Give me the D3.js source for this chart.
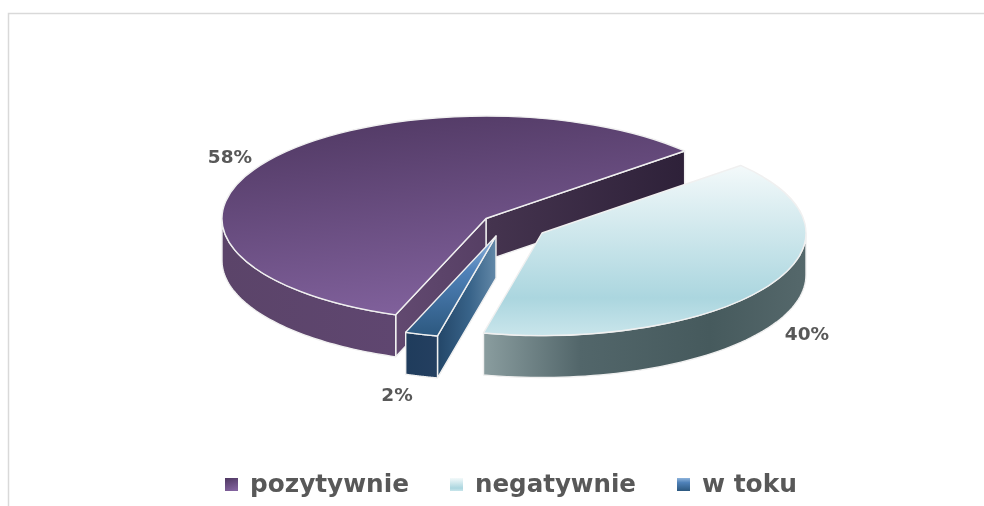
<!DOCTYPE html>
<html>

<head>
	<title>Pie 3D</title>
	<style>
		body,
		html {
			margin: 0;
			background: #fff;
		}

		svg {
			display: block;
		}

		text {
			font-family: "DejaVu Sans";
			font-weight: bold;
			fill: #595959;
			filter: url(#soft);
		}
	</style>
</head>

<body>

	<svg id="svg" width="984" height="506"></svg>

	<script src="https://d3js.org/d3.v7.min.js"></script>
	<script>
		// Data
		const categories = ['pozytywnie', 'negatywnie', 'w toku']
		const shares = [58, 40, 2]

		// Layout of the tilted pie
		const rx = 264
		const ry = 102.5
		const depth = 42
		const rad = Math.PI / 180
		const centers = [[486, 218.5], [542, 233], [496, 236]] // exploded slices have their own center
		const labelPos = [[230, 156], [807, 333], [397, 394]]
		const legendX = [225, 450, 677]
		const legendWidth = [159, 161, 95] // the reference text is stretched sideways
		const strokeColor = '#f0f0f0'

		const svg = d3.select('#svg')

		// Chart frame, only top and left are in the picture
		svg.append('path')
			.attr('d', 'M8.5,506V13.5H984')
			.attr('fill', 'none')
			.attr('stroke', '#d9d9d9')
			.attr('stroke-width', 1.5)

		// Gradients
		const defs = svg.append('defs')

		// The reference is an upscaled image, text is a bit soft
		defs.append('filter')
			.attr('id', 'soft')
			.append('feGaussianBlur')
			.attr('stdDeviation', 0.35)

		function gradient(id, stops, dir) {
			const g = defs.append('linearGradient')
				.attr('id', id)
				.attr('x1', dir[0]).attr('y1', dir[1])
				.attr('x2', dir[2]).attr('y2', dir[3])
			g.selectAll('stop')
				.data(stops)
				.join('stop')
				.attr('offset', d => d[0])
				.attr('stop-color', d => d[1])
		}

		const down = [0, 0, 0, 1]
		const across = [0, 0, 1, 0]

		gradient('top0', [[0, '#523a65'], [1, '#83639f']], [0.3, 0, 0.6, 1])
		gradient('top1', [[0, '#f3f9fa'], [0.78, '#abd6df'], [1, '#c9e5eb']], down)
		gradient('top2', [[0, '#8fb4dc'], [0.35, '#4f81b8'], [1, '#2c587f']], down)
		gradient('rim0', [[0, '#5b4469'], [1, '#5f4670']], across)
		gradient('rim1', [[0, '#8a9d9f'], [0.3, '#52666a'], [0.7, '#465a5d'], [1, '#55686b']], across)
		gradient('rim2', [[0, '#1f3c5c'], [1, '#243f60']], across)
		gradient('wallBack', [[0, '#45344f'], [1, '#2e2139']], across)
		gradient('wallFront', [[0, '#624970'], [1, '#563f64']], across)
		gradient('wallBlue', [[0, '#234668'], [0.55, '#386389'], [1, '#6288a8']], across)

		// Angles come from the pie layout, first slice starts low on the left
		const pie = d3.pie()
			.sort(null)
			.startAngle(200 * rad)
			.endAngle(560 * rad)
		const slices = pie(shares)

		const arcTop = d3.arc()
			.innerRadius(0)
			.outerRadius(rx)

		// Project a pie angle on to the tilted ellipse
		function project(i, a, z) {
			const [cx, cy] = centers[i]
			return [cx + rx * Math.sin(a), cy - ry * Math.cos(a) + (z || 0)]
		}

		const line = d3.line()

		// Outer rim between two angles, only used for the part facing the viewer
		function rimPath(i, a0, a1) {
			const n = 60
			const angles = d3.range(n + 1).map(k => a0 + (a1 - a0) * k / n)
			const front = angles.map(a => project(i, a))
			const back = angles.slice().reverse().map(a => project(i, a, depth))
			return line(front.concat(back)) + 'Z'
		}

		// Flat cut wall from the slice center to the edge
		function wallPath(i, a) {
			const c = centers[i]
			const e = project(i, a)
			return line([c, e, [e[0], e[1] + depth], [c[0], c[1] + depth]]) + 'Z'
		}

		function drawShape(d, fill) {
			svg.append('path')
				.attr('d', d)
				.attr('fill', fill)
				.attr('stroke', strokeColor)
				.attr('stroke-width', 1.4)
				.attr('stroke-linejoin', 'round')
		}

		function drawTop(i) {
			svg.append('path')
				.attr('d', arcTop(slices[i]))
				.attr('transform', `translate(${centers[i][0]},${centers[i][1]}) scale(1,${ry / rx})`)
				.attr('fill', `url(#top${i})`)
				.attr('stroke', strokeColor)
				.attr('stroke-width', 1.4)
				.attr('stroke-linejoin', 'round')
				.attr('vector-effect', 'non-scaling-stroke')
		}

		// Purple slice first, the exploded ones sit in front of it
		drawShape(wallPath(0, slices[0].endAngle), 'url(#wallBack)')
		drawShape(wallPath(0, slices[0].startAngle), 'url(#wallFront)')
		drawShape(rimPath(0, slices[0].startAngle, 270 * rad), 'url(#rim0)')
		drawTop(0)

		// Blue sliver
		drawShape(wallPath(2, slices[2].startAngle), 'url(#wallBlue)')
		drawShape(rimPath(2, slices[2].startAngle, slices[2].endAngle), 'url(#rim2)')
		drawTop(2)

		// Light slice
		drawShape(rimPath(1, 90 * rad + 360 * rad, slices[1].endAngle), 'url(#rim1)')
		drawTop(1)

		// Value labels
		svg.selectAll('text.value')
			.data(shares)
			.join('text')
			.attr('class', 'value')
			.attr('x', (d, i) => labelPos[i][0])
			.attr('y', (d, i) => labelPos[i][1])
			.attr('text-anchor', 'middle')
			.attr('dominant-baseline', 'central')
			.attr('font-size', 18.5)
			.text(d => d + '%')

		// Legend
		const legend = svg.selectAll('g.legend')
			.data(categories)
			.join('g')
			.attr('class', 'legend')
			.attr('transform', (d, i) => `translate(${legendX[i]},484)`)

		legend.append('rect')
			.attr('y', -6)
			.attr('width', 13)
			.attr('height', 13)
			.attr('fill', (d, i) => `url(#top${i})`)

		legend.append('text')
			.attr('x', 25)
			.attr('dominant-baseline', 'central')
			.attr('font-size', 24)
			.attr('textLength', (d, i) => legendWidth[i])
			.attr('lengthAdjust', 'spacingAndGlyphs')
			.text(d => d)
	</script>
</body>

</html>
